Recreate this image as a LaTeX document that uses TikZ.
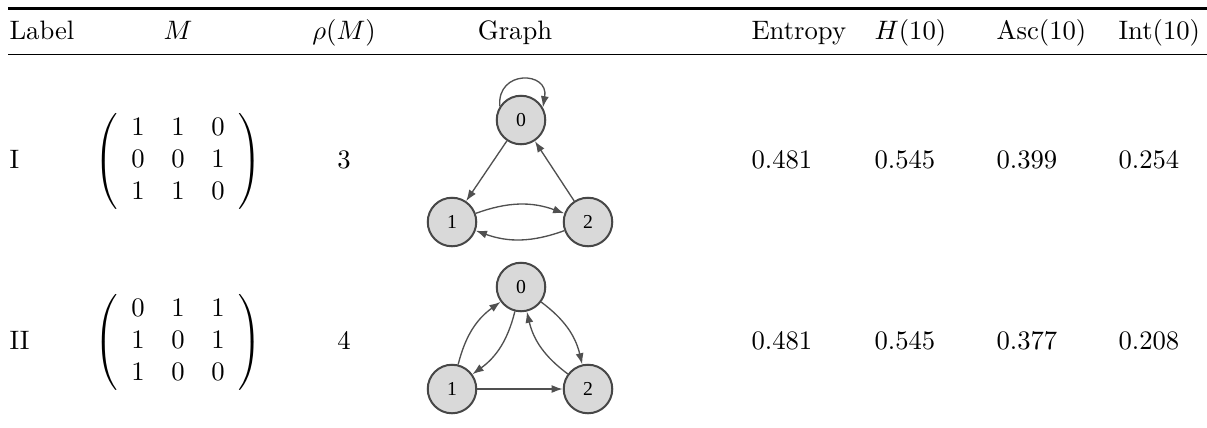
\documentclass[tikz,border=0pt]{standalone}
\usepackage{fontspec}
\newfontfamily\gfont{Liberation Serif}
\usetikzlibrary{arrows.meta}
\definecolor{gfill}{HTML}{D9D9D9}
\definecolor{gline}{HTML}{474747}
\definecolor{eline}{HTML}{505050}
\tikzset{
  txt/.style={inner sep=0pt, anchor=base},
  txtl/.style={inner sep=0pt, anchor=base west},
  gnode/.style={circle, draw=gline, fill=gfill, line width=0.75pt, minimum size=18.2pt, inner sep=0pt, font=\gfont\fontsize{7.4}{8}\selectfont},
  gedge/.style={draw=eline, line width=0.5pt, -{Latex[length=4.2pt,width=3pt]}},
  toprule/.style={line width=0.8pt},
  midrule/.style={line width=0.5pt}
}
\begin{document}
\begin{tikzpicture}[x=0.375pt,y=0.375pt]
\useasboundingbox (0,0) rectangle (1207,-427);
% rules
\coordinate (tl) at (8,-8.5);
\coordinate (tr) at (1207,-8.5);
\coordinate (ml) at (8,-54.5);
\coordinate (mr) at (1207,-54.5);
\draw[toprule] (tl) -- (tr);
\draw[midrule] (ml) -- (mr);
% header
\node[txtl] (hL) at (9,-39) {Label};
\node[txt] (hM) at (178,-39) {$M$};
\node[txt] (hR) at (344,-39) {$\rho(M)$};
\node[txt] (hG) at (515,-39) {Graph};
\node[txtl] (hE) at (751,-39) {Entropy};
\node[txtl] (hH) at (874,-39) {$H(10)$};
\node[txtl] (hA) at (996,-39) {Asc(10)};
\node[txtl] (hI) at (1118,-39) {Int(10)};
% row I
\node[txtl] (l1) at (9,-168) {I};
\node[inner sep=0pt] (m1) at (178,-161.3) {$\left(\begin{array}{ccc}1&1&0\\0&0&1\\1&1&0\end{array}\right)$};
\node[txt] (r1) at (344,-168) {3};
\node[txtl] (e1) at (751,-168) {0.481};
\node[txtl] (h1) at (874,-168) {0.545};
\node[txtl] (a1v) at (996,-168) {0.399};
\node[txtl] (i1) at (1118,-168) {0.254};
% row II
\node[txtl] (l2) at (9,-349) {II};
\node[inner sep=0pt] (m2) at (178,-342.3) {$\left(\begin{array}{ccc}0&1&1\\1&0&1\\1&0&0\end{array}\right)$};
\node[txt] (r2) at (344,-349) {4};
\node[txtl] (e2) at (751,-349) {0.481};
\node[txtl] (h2) at (874,-349) {0.545};
\node[txtl] (a2v) at (996,-349) {0.377};
\node[txtl] (i2) at (1118,-349) {0.208};
% graph I
\node[gnode] (a0) at (521,-120) {0};
\node[gnode] (a1) at (452,-222) {1};
\node[gnode] (a2) at (588,-222) {2};
\draw[gedge] (a0) -- (a1);
\draw[gedge] (a2) -- (a0);
\draw[gedge] (a1) to[bend left=20] (a2);
\draw[gedge] (a2) to[bend left=20] (a1);
\draw[gedge] (a0.147) .. controls +(95:37) and +(80:37) .. (a0.30);
% graph II
\node[gnode] (b0) at (521,-287) {0};
\node[gnode] (b1) at (452,-389) {1};
\node[gnode] (b2) at (588,-389) {2};
\draw[gedge] (b1) to[bend left=20] (b0);
\draw[gedge] (b0) to[bend left=20] (b1);
\draw[gedge] (b0) to[bend left=20] (b2);
\draw[gedge] (b2) to[bend left=20] (b0);
\draw[gedge] (b1) -- (b2);
\end{tikzpicture}
\end{document}
